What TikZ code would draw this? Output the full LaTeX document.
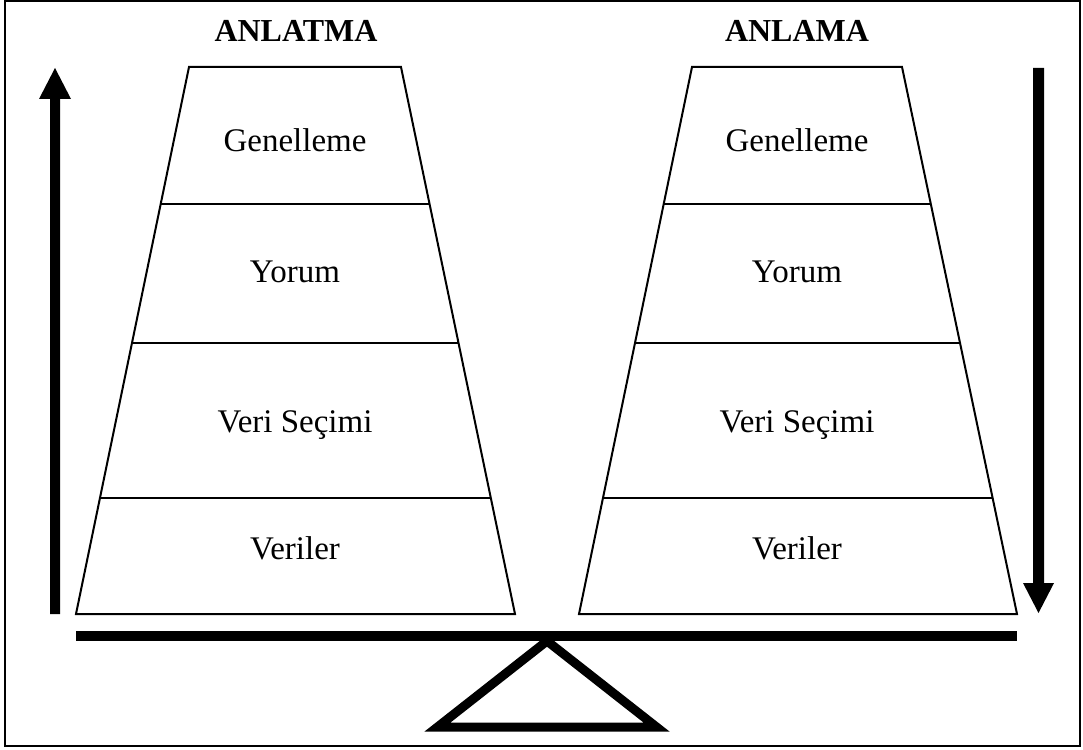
\documentclass[tikz,border=0pt]{standalone}
\usepackage{fontspec}
\setmainfont{Liberation Serif}
\begin{document}
\begin{tikzpicture}[x=1pt,y=-1pt,
  lbl/.style={font=\fontsize{33}{37}\selectfont, inner sep=0pt, anchor=center},
  head/.style={font=\fontsize{32}{36}\selectfont\bfseries, inner sep=0pt, anchor=center},
  trap/.style={draw=black, line width=2pt, line join=miter},
  divider/.style={draw=black, line width=2pt},
  bigarrow/.style={fill=black, draw=none}]
\useasboundingbox (0,0) rectangle (1083,749);
% outer frame
\draw[line width=2pt] (5,1) rectangle (1080,746);

% headings
\node[head] (h1) at (296,31) {ANLATMA};
\node[head] (h2) at (797,31) {ANLAMA};

% left trapezoid
\coordinate (L1) at (189,67);
\coordinate (L2) at (401,67);
\coordinate (L3) at (515,614);
\coordinate (L4) at (76,614);
\draw[trap] (L1) -- (L2) -- (L3) -- (L4) -- cycle;
\draw[divider] (160.7,204) -- (429.6,204);
\draw[divider] (132.9,343) -- (458.6,343);
\draw[divider] (100.8,498) -- (490.9,498);

% right trapezoid
\coordinate (R1) at (692,67);
\coordinate (R2) at (902,67);
\coordinate (R3) at (1017,614);
\coordinate (R4) at (579,614);
\draw[trap] (R1) -- (R2) -- (R3) -- (R4) -- cycle;
\draw[divider] (663.8,204) -- (930.8,204);
\draw[divider] (635.2,343) -- (960.1,343);
\draw[divider] (603.3,498) -- (992.6,498);

% labels
\node[lbl] (g1) at (295,140) {Genelleme};
\node[lbl] (y1) at (295,272) {Yorum};
\node[lbl] (v1) at (295,425) {Veri Seçimi};
\node[lbl] (d1) at (295,548) {Veriler};
\node[lbl] (g2) at (797,140) {Genelleme};
\node[lbl] (y2) at (797,272) {Yorum};
\node[lbl] (v2) at (797,425) {Veri Seçimi};
\node[lbl] (d2) at (797,548) {Veriler};

% left up arrow
\fill[bigarrow] (50,614) -- (50,99) -- (39,99) -- (55,68) -- (71,99) -- (60,99) -- (60,614) -- cycle;
% right down arrow
\fill[bigarrow] (1033,68) -- (1033,583) -- (1023,583) -- (1038.5,613) -- (1054,583) -- (1044,583) -- (1044,68) -- cycle;

% beam
\draw[line width=10pt] (76,636) -- (1017,636);
% fulcrum
\coordinate (apex) at (547,641);
\coordinate (tl) at (437.5,727);
\coordinate (tr) at (656.5,727);
\draw[line width=9pt, line join=miter] (apex) -- (tr) -- (tl) -- cycle;
\end{tikzpicture}
\end{document}
